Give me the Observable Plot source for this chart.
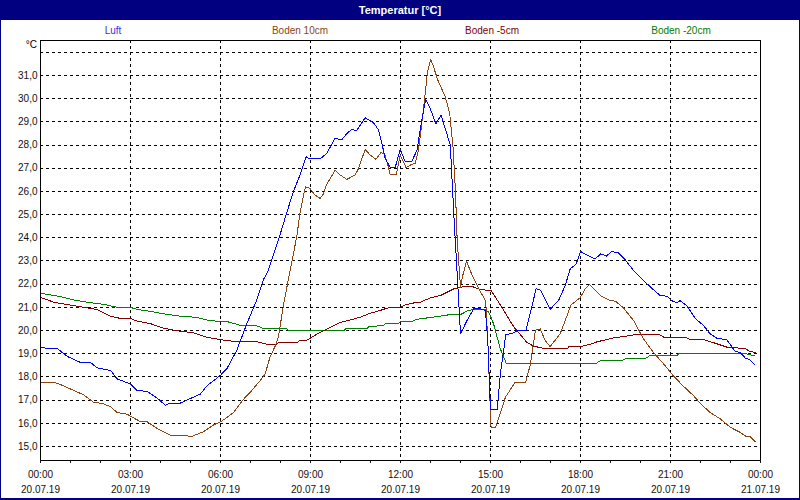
<!DOCTYPE html>
<html>
<head>
<meta charset="utf-8">
<script src="https://cdn.jsdelivr.net/npm/d3@7"></script>
<script src="https://cdn.jsdelivr.net/npm/@observablehq/plot@0.6"></script>
<style>
  body { margin:0; background:#fff; }
  #wrap { position:relative; width:800px; height:500px; background:#fff; overflow:hidden; font-family:"Liberation Sans", Arial, sans-serif; }
  #titlebar { position:absolute; left:0; top:0; width:800px; height:20px; background:#000080; color:#fff; font-weight:bold; font-size:11px; line-height:20px; text-align:center; }
  #border { position:absolute; left:0; top:0; width:800px; height:500px; box-sizing:border-box; border-left:1px solid #000080; border-right:1px solid #000080; border-bottom:2px solid #000080; pointer-events:none; }
  .leg { position:absolute; top:25px; font-size:10px; transform:translateX(-50%); white-space:nowrap; }
  #unit { position:absolute; top:39px; right:763px; font-size:10px; color:#000; }
  #chart { position:absolute; left:0; top:20px; }
</style>
</head>
<body>
<div id="wrap">
  <div id="titlebar"></div>
  <div id="legend"></div>
  <div id="unit">°C</div>
  <div id="chart"></div>
  <div id="border"></div>
</div>
<script>
// ---- data: [hour of day, °C] ----
const title = "Temperatur [°C]";
const seriesNames = ["Luft", "Boden 10cm", "Boden -5cm", "Boden -20cm"];
const seriesColors = ["#0000ff", "#8b4513", "#800000", "#008000"];
const legendColors = ["#4030d8", "#8b4513", "#800000", "#008000"];

const luft = [[0,19.29],[0.23,19.22],[0.56,19.22],[0.9,18.88],[1.34,18.62],[1.67,18.62],[1.89,18.39],[2.34,18.28],[2.56,17.91],[3,17.7],[3.22,17.41],[3.55,17.38],[3.89,17.09],[4.16,16.78],[4.33,16.87],[4.66,16.87],[5.0,17.07],[5.33,17.26],[5.55,17.62],[5.99,18.06],[6.21,18.35],[6.54,19.14],[6.88,20.3],[7.21,21.32],[7.43,22.19],[7.6,22.62],[7.93,23.9],[8.2,25.05],[8.43,25.99],[8.65,26.71],[8.85,27.5],[8.98,27.4],[9.32,27.4],[9.54,27.64],[9.82,28.29],[10.04,28.22],[10.21,28.5],[10.38,28.68],[10.54,28.62],[10.82,29.18],[11.1,28.96],[11.27,28.65],[11.38,28.07],[11.49,27.42],[11.66,27.02],[11.82,27.02],[11.99,27.81],[12.16,27.28],[12.37,27.28],[12.55,27.78],[12.71,29.08],[12.84,29.97],[12.99,29.58],[13.18,28.91],[13.35,29.29],[13.49,28.72],[13.66,28.0],[13.72,26.47],[13.8,24.46],[13.89,22.45],[14.0,19.86],[14.22,20.44],[14.44,20.94],[14.67,20.94],[14.83,20.87],[14.91,19.57],[14.94,18.57],[15.0,16.58],[15.22,16.58],[15.33,18.13],[15.51,19.82],[15.78,19.9],[15.89,20.0],[16.18,20.0],[16.39,21.1],[16.52,21.8],[16.68,21.73],[16.99,20.92],[17.27,21.3],[17.49,21.94],[17.66,22.67],[17.85,22.85],[18.0,23.41],[18.21,23.26],[18.49,23.09],[18.68,23.31],[18.86,23.21],[19.04,23.41],[19.27,23.35],[19.49,23.05],[19.77,22.59],[20.1,22.16],[20.43,21.76],[20.66,21.51],[20.88,21.48],[21.04,21.29],[21.21,21.19],[21.32,21.29],[21.54,21.08],[21.82,20.53],[22.1,20.22],[22.32,19.86],[22.54,19.67],[22.88,19.6],[23.16,19.09],[23.32,19.06],[23.49,18.82],[23.66,18.73],[23.82,18.52]];

const boden10 = [[0,17.77],[0.45,17.77],[0.67,17.67],[1.12,17.41],[1.45,17.22],[1.78,16.9],[2.06,16.86],[2.34,16.71],[2.56,16.46],[2.89,16.39],[3.33,16.07],[3.55,16.07],[3.89,15.78],[4.33,15.48],[4.88,15.48],[4.99,15.41],[5.44,15.64],[5.77,15.93],[6.05,16.1],[6.43,16.46],[6.77,17.04],[7.04,17.41],[7.32,17.84],[7.49,18.13],[7.65,18.86],[7.82,19.32],[7.93,19.72],[8.09,21.03],[8.26,22.19],[8.54,24.04],[8.65,25.05],[8.76,25.77],[8.83,26.2],[8.98,26.13],[9.15,25.84],[9.32,25.7],[9.41,25.84],[9.54,26.3],[9.82,26.92],[9.99,26.71],[10.21,26.52],[10.49,26.71],[10.6,26.99],[10.82,27.81],[10.99,27.57],[11.18,27.38],[11.35,27.68],[11.47,27.61],[11.55,27.28],[11.66,26.71],[11.86,26.71],[11.99,27.57],[12.19,27.02],[12.33,27.14],[12.49,27.21],[12.6,27.78],[12.71,28.94],[12.83,30.3],[12.9,31.17],[13.01,31.7],[13.1,31.38],[13.24,30.81],[13.49,30.09],[13.64,29.37],[13.75,27.93],[13.83,26.06],[13.89,23.88],[14.0,21.87],[14.06,22.3],[14.2,22.99],[14.39,22.38],[14.61,21.8],[14.84,21.27],[14.91,19.57],[14.97,17.42],[15.02,15.81],[15.17,15.81],[15.28,16.27],[15.5,17.13],[15.82,17.77],[16.17,17.77],[16.32,18.49],[16.5,20.02],[16.66,20.07],[16.82,19.57],[16.99,19.31],[17.32,19.86],[17.49,20.43],[17.68,21.1],[17.99,21.42],[18.16,21.8],[18.3,21.98],[18.49,21.73],[18.71,21.47],[18.99,21.29],[19.16,21.27],[19.43,20.98],[19.77,20.43],[20.1,19.64],[20.43,19.06],[20.77,18.56],[21.1,18.04],[21.43,17.6],[21.77,17.19],[21.99,16.86],[22.32,16.47],[22.66,16.19],[22.99,15.83],[23.32,15.61],[23.54,15.42],[23.66,15.42],[23.82,15.22]];

const boden5 = [[0,21.43],[0.45,21.22],[0.9,21.12],[1.45,21.0],[1.89,20.91],[2.34,20.62],[2.67,20.52],[3,20.52],[3.22,20.41],[3.66,20.3],[4.11,20.1],[4.55,19.99],[5.1,19.9],[5.55,19.71],[5.99,19.61],[6.54,19.52],[7.2,19.52],[7.54,19.41],[7.87,19.41],[7.94,19.49],[8.56,19.49],[8.67,19.59],[8.89,19.59],[9.0,19.68],[9.33,19.93],[9.67,20.14],[10.0,20.35],[10.33,20.46],[10.67,20.58],[11.0,20.75],[11.33,20.87],[11.61,20.99],[12.0,20.99],[12.11,21.09],[12.44,21.19],[12.67,21.23],[13.0,21.41],[13.33,21.51],[13.78,21.8],[14.11,21.9],[14.39,21.9],[14.67,21.76],[15.02,21.73],[15.33,21.1],[15.78,20.15],[16.22,19.48],[16.44,19.33],[16.83,19.21],[17.56,19.21],[17.62,19.31],[18.0,19.31],[18.33,19.41],[18.54,19.51],[19.1,19.68],[19.77,19.81],[20.66,19.81],[20.82,19.68],[21.54,19.68],[21.66,19.61],[22.1,19.61],[22.43,19.48],[22.87,19.29],[23.49,19.22],[23.66,19.09],[23.82,19.06]];

const boden20 = [[0,21.61],[0.67,21.46],[1.12,21.32],[1.56,21.22],[2.11,21.13],[2.56,21.0],[3,21.0],[3.22,20.91],[3.66,20.83],[4.11,20.72],[4.66,20.62],[5.21,20.57],[5.66,20.42],[6.21,20.39],[6.65,20.23],[7.21,20.2],[7.43,20.09],[8.22,20.07],[8.28,20.0],[10.11,20.0],[10.17,20.07],[10.89,20.07],[10.94,20.17],[11.44,20.22],[11.5,20.32],[11.94,20.32],[12.0,20.38],[12.39,20.38],[12.5,20.48],[13.1,20.58],[13.67,20.69],[14.0,20.69],[14.22,20.84],[14.44,20.92],[14.83,20.9],[14.94,20.8],[15.1,20.3],[15.33,19.2],[15.52,18.6],[18.54,18.6],[18.66,18.7],[19.38,18.7],[19.5,18.79],[20.16,18.79],[20.3,18.91],[21.2,18.91],[21.27,18.99],[23.54,18.99],[23.82,18.91]];

const xTicks = [0,3,6,9,12,15,18,21,24];
const xTickTimes = ["00:00","03:00","06:00","09:00","12:00","15:00","18:00","21:00","00:00"];
const xTickDates = ["20.07.19","20.07.19","20.07.19","20.07.19","20.07.19","20.07.19","20.07.19","20.07.19","21.07.19"];
const yTicks = [15,16,17,18,19,20,21,22,23,24,25,26,27,28,29,30,31];
const yGrid = [15,16,17,18,19,20,21,22,23,24,25,26,27,28,29,30,31,32];
const xGrid = [3,6,9,12,15,18,21];
const xMinor = d3.range(0, 25, 1);
const legendX = [113, 300, 492, 681];

// ---- page text ----
document.getElementById("titlebar").textContent = title;
const leg = document.getElementById("legend");
seriesNames.forEach((n, i) => {
  const d = document.createElement("div");
  d.className = "leg";
  d.style.left = legendX[i] + "px";
  d.style.color = legendColors[i];
  d.textContent = n;
  leg.appendChild(d);
});

const seriesData = [luft, boden10, boden5, boden20];
const drawOrder = [3, 2, 1, 0];

const chart = Plot.plot({
  width: 800,
  height: 480,
  marginLeft: 40,
  marginRight: 40,
  marginTop: 20,
  marginBottom: 40,
  style: { fontFamily: "Liberation Sans, Arial, sans-serif", fontSize: "10px", color: "#111", background: "transparent" },
  x: { type: "linear", domain: [0, 24] },
  y: { domain: [14.396, 32.509] },
  marks: [
    Plot.gridY(yGrid, { stroke: "#000", strokeOpacity: 1, strokeDasharray: "3,3", shapeRendering: "crispEdges" }),
    Plot.gridX(xGrid, { stroke: "#000", strokeOpacity: 1, strokeDasharray: "3,3", shapeRendering: "crispEdges" }),
    ...drawOrder.map(i => Plot.line(seriesData[i], {
      x: d => d[0], y: d => d[1], stroke: seriesColors[i], strokeWidth: 1, shapeRendering: "crispEdges"
    })),
    Plot.frame({ stroke: "#000", shapeRendering: "crispEdges" }),
    Plot.axisY(yTicks, { tickSize: 0, tickPadding: 3, tickFormat: d => d.toFixed(1).replace(".", ","), label: null }),
    Plot.axisX(xMinor, { tickSize: 3, tickFormat: () => "", label: null, shapeRendering: "crispEdges" }),
    Plot.axisX(xTicks, { tickSize: 0, tickPadding: 7, lineHeight: 1.5,
      tickFormat: d => xTickTimes[xTicks.indexOf(d)] + "\n" + xTickDates[xTicks.indexOf(d)], label: null })
  ]
});
document.getElementById("chart").appendChild(chart);
</script>
</body>
</html>
